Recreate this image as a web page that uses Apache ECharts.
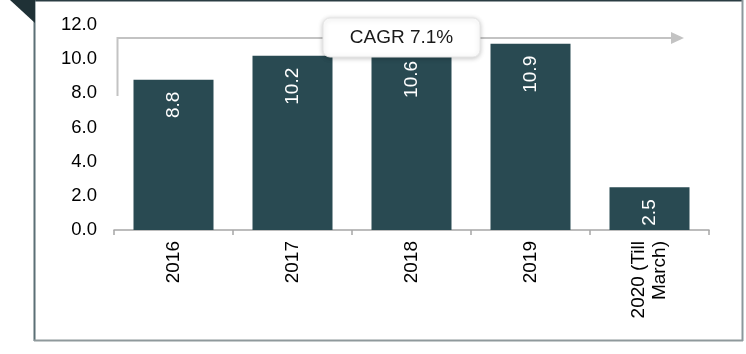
<!DOCTYPE html>
<html>
<head>
<meta charset="utf-8">
<script src="https://cdn.jsdelivr.net/npm/echarts@6/dist/echarts.min.js"></script>
<style>
html,body{margin:0;padding:0;background:#fff;}
#c{width:746px;height:354px;}
</style>
</head>
<body>
<div id="c"></div>
<script>
var categories = ['2016', '2017', '2018', '2019', '2020 (Till\nMarch)'];
var values = [8.8, 10.2, 10.6, 10.9, 2.5];
var yTicks = [0, 2, 4, 6, 8, 10, 12];
var cagrText = 'CAGR 7.1%';

var FONT = '"Liberation Sans", Arial, sans-serif';
var chart = echarts.init(document.getElementById('c'), null, {renderer: 'canvas'});
chart.setOption({
  animation: false,
  backgroundColor: '#fff',
  grid: {left: 114, right: 37, top: 25, bottom: 124},
  xAxis: {
    type: 'category',
    data: categories,
    axisLine: {show: true, lineStyle: {color: '#a6a6a6', width: 1.5}},
    axisTick: {show: true, length: 5, lineStyle: {color: '#a6a6a6', width: 1.5}},
    axisLabel: {
      rotate: 90, margin: 11, color: '#000', fontSize: 19, fontFamily: FONT,
      lineHeight: 21, interval: 0, align: 'right', verticalAlign: 'middle'
    }
  },
  yAxis: {
    type: 'value',
    min: yTicks[0], max: yTicks[yTicks.length - 1], interval: 2,
    axisLine: {show: false},
    axisTick: {show: false},
    splitLine: {show: false},
    axisLabel: {
      margin: 17, color: '#000', fontSize: 18.5, fontFamily: FONT,
      formatter: function (v) { return v.toFixed(1); }
    }
  },
  series: [{
    type: 'bar',
    data: values,
    barWidth: 80,
    itemStyle: {color: '#294a52'},
    label: {
      show: true,
      position: 'insideTop',
      distance: 12,
      rotate: 90,
      align: 'right',
      verticalAlign: 'middle',
      color: '#fff',
      fontSize: 19,
      fontFamily: FONT,
      formatter: function (p) { return p.value.toFixed(1); }
    }
  }],
  graphic: [
    // frame
    {type: 'line', shape: {x1: 34, y1: 0.5, x2: 743, y2: 0.5}, style: {stroke: '#2a3c42', lineWidth: 2}, silent: true},
    {type: 'line', shape: {x1: 34.5, y1: 0, x2: 34.5, y2: 341}, style: {stroke: '#5b6f75', lineWidth: 2}, silent: true},
    {type: 'line', shape: {x1: 742.5, y1: 0, x2: 742.5, y2: 341}, style: {stroke: '#8b979b', lineWidth: 2}, silent: true},
    {type: 'line', shape: {x1: 34, y1: 340.5, x2: 743, y2: 340.5}, style: {stroke: '#8f999c', lineWidth: 2}, silent: true},
    {type: 'polygon', shape: {points: [[10, 0], [35, 0], [35, 23]]}, style: {fill: '#1f3136'}, silent: true},
    // CAGR arrow
    {type: 'polyline', shape: {points: [[117.5, 96], [117.5, 38], [672, 38]]}, style: {stroke: '#c3c3c3', lineWidth: 2, fill: null}, silent: true, z: 10},
    {type: 'polygon', shape: {points: [[671, 32], [684, 38], [671, 44]]}, style: {fill: '#c3c3c3'}, silent: true, z: 10},
    {type: 'rect', shape: {x: 323, y: 18, width: 157, height: 39, r: 7},
      style: {fill: '#fff', stroke: '#e6e6e6', lineWidth: 1, shadowBlur: 5, shadowColor: 'rgba(0,0,0,0.22)', shadowOffsetX: 0, shadowOffsetY: 1},
      silent: true, z: 11},
    {type: 'text', x: 401.5, y: 38,
      style: {text: cagrText, fill: '#1a1a1a', font: '19px "Liberation Sans", Arial, sans-serif', textAlign: 'center', textVerticalAlign: 'middle'},
      silent: true, z: 12}
  ]
});
</script>
</body>
</html>
